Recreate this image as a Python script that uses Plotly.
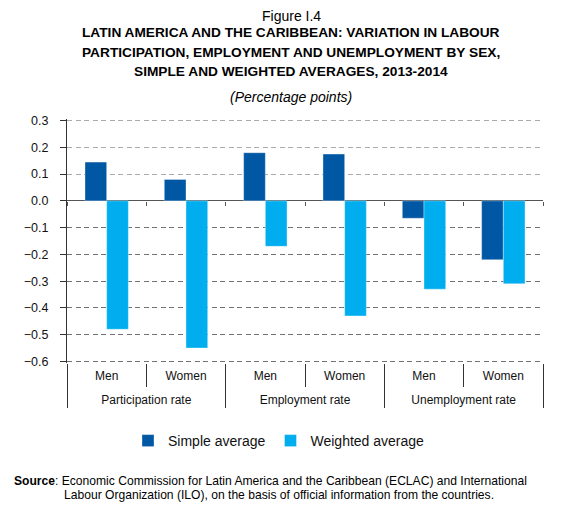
import plotly.graph_objects as go

# ---- data ----
groups = ["Participation rate", "Participation rate",
          "Employment rate", "Employment rate",
          "Unemployment rate", "Unemployment rate"]
sexes = ["Men", "Women", "Men", "Women", "Men", "Women"]
simple_avg = [0.145, 0.08, 0.18, 0.175, -0.065, -0.22]
weighted_avg = [-0.48, -0.55, -0.17, -0.43, -0.33, -0.31]
series_names = ["Simple average", "Weighted average"]
y_ticks = [0.3, 0.2, 0.1, 0.0, -0.1, -0.2, -0.3, -0.4, -0.5, -0.6]

# derived category positions (index based)
idx = list(range(len(sexes)))
inner_bounds = [i - 0.5 for i in range(len(sexes) + 1)]
group_names = []
for g in groups:
    if g not in group_names:
        group_names.append(g)
group_centers = [sum(i for i in idx if groups[i] == g) / groups.count(g) for g in group_names]
group_bounds = [-0.5] + [max(i for i in idx if groups[i] == g) + 0.5 for g in group_names]
upper_ticks = [v for v in y_ticks if v >= 0]
lower_ticks = [v for v in y_ticks if v < 0]

# ---- geometry (page offset of 8px from the body margin) ----
OFF = 8
W, H = 574, 515
L, R, T, B = 59, 39, 111, 160
PH = H - T - B
PW = W - L - R

def py(p):
    return (H - B - (p - OFF)) / PH

def px(p):
    return (p - OFF - L) / PW

FONT = "Liberation Sans, Arial, Helvetica, sans-serif"
C_SIMPLE = "#0057A4"
C_WEIGHT = "#00AEEF"
XR = [-0.5, len(sexes) - 0.5]
# small padding so the edge gridlines (0.3 and -0.6) are kept
YR = [min(y_ticks) - 0.006, max(y_ticks) + 0.006]

fig = go.Figure()
fig.add_trace(go.Bar(
    x=[groups, sexes], y=simple_avg, name=series_names[0],
    marker=dict(color=C_SIMPLE, line=dict(color="rgba(255,255,255,0.45)", width=0.8)),
))
fig.add_trace(go.Bar(
    x=[groups, sexes], y=weighted_avg, name=series_names[1],
    marker=dict(color=C_WEIGHT, line=dict(color="rgba(255,255,255,0.45)", width=0.8)),
))
# empty helper traces so that the overlay axes (labels, ticks, grids) get drawn
for xa, ya in [("x2", "y"), ("x3", "y"), ("x4", "y"), ("x", "y3")]:
    fig.add_trace(go.Scatter(x=[], y=[], xaxis=xa, yaxis=ya, mode="markers",
                             showlegend=False, hoverinfo="skip"))

title_lines = [
    ("Figure I.4", 16, 14),
    ("<b>LATIN AMERICA AND THE CARIBBEAN: VARIATION IN LABOUR</b>", 32.5, 13.7),
    ("<b>PARTICIPATION, EMPLOYMENT AND UNEMPLOYMENT BY SEX,</b>", 52, 13.7),
    ("<b>SIMPLE AND WEIGHTED AVERAGES, 2013-2014</b>", 71.5, 13.7),
    ("<i>(Percentage points)</i>", 97, 14),
]
annotations = []
for txt, ypix, fs in title_lines:
    annotations.append(dict(
        text=txt, xref="paper", yref="paper", x=px(291), y=py(ypix),
        xanchor="center", yanchor="middle", showarrow=False,
        font=dict(family=FONT, size=fs, color="#000000"),
    ))
annotations.append(dict(
    text="<b>Source</b>: Economic Commission for Latin America and the Caribbean (ECLAC) and International",
    xref="paper", yref="paper", x=px(12), y=py(481), xanchor="left", yanchor="middle",
    showarrow=False, font=dict(family=FONT, size=12.1, color="#000000"),
))
annotations.append(dict(
    text="Labour Organization (ILO), on the basis of official information from the countries.",
    xref="paper", yref="paper", x=px(62), y=py(495), xanchor="left", yanchor="middle",
    showarrow=False, font=dict(family=FONT, size=12.1, color="#000000"),
))

ytick_style = dict(
    ticks="outside", ticklen=6, tickcolor="#333333",
    ticklabelstandoff=9, automargin=False,
    tickfont=dict(family=FONT, size=12.5, color="#111111"),
    tickformat=".1f",
)

fig.update_layout(
    width=W, height=H,
    margin=dict(l=L, r=R, t=T, b=B, pad=0),
    paper_bgcolor="white", plot_bgcolor="white",
    barmode="group", bargap=0.453, bargroupgap=0,
    font=dict(family=FONT, size=12, color="#111111"),
    showlegend=True,
    legend=dict(orientation="h", x=px(279), xanchor="center", y=py(441), yanchor="middle",
                font=dict(family=FONT, size=14, color="#111111"),
                bgcolor="rgba(0,0,0,0)"),
    annotations=annotations,
    # bars (multicategory, labels drawn by the overlay axes below)
    xaxis=dict(
        type="multicategory", range=XR,
        showline=False, showgrid=False, zeroline=False,
        ticks="", showticklabels=False, showdividers=False, automargin=False,
    ),
    # inner labels: Men / Women
    xaxis2=dict(
        type="linear", overlaying="x", anchor="y", side="bottom", range=XR,
        tickmode="array", tickvals=idx, ticktext=sexes, ticks="",
        ticklabelstandoff=4, automargin=False,
        tickfont=dict(family=FONT, size=12, color="#111111"),
        minor=dict(tickmode="array", tickvals=inner_bounds, ticks="outside",
                   ticklen=23, tickcolor="#333333", tickwidth=1, showgrid=False),
        showgrid=False, zeroline=False, showline=False,
    ),
    # outer labels: indicator groups
    xaxis3=dict(
        type="linear", overlaying="x", anchor="y", side="bottom", range=XR,
        tickmode="array", tickvals=group_centers, ticktext=group_names, ticks="",
        ticklabelstandoff=28, automargin=False,
        tickfont=dict(family=FONT, size=12, color="#111111"),
        minor=dict(tickmode="array", tickvals=group_bounds, ticks="outside",
                   ticklen=44, tickcolor="#333333", tickwidth=1, showgrid=False),
        showgrid=False, zeroline=False, showline=False,
    ),
    # small ticks on the zero line
    xaxis4=dict(
        type="linear", overlaying="x", anchor="free", position=(0 - YR[0]) / (YR[1] - YR[0]),
        side="bottom", range=XR, tickmode="array", tickvals=inner_bounds,
        ticks="outside", ticklen=4, tickcolor="#555555", tickwidth=1,
        showticklabels=False, showgrid=False, zeroline=False, showline=False,
        automargin=False,
    ),
    # upper ticks (light dashed grid) + zero line + axis line
    yaxis=dict(
        range=YR, tickmode="array", tickvals=upper_ticks,
        showgrid=True, gridcolor="#ababab", griddash="5px,3.5px", gridwidth=1,
        zeroline=True, zerolinecolor="#555555", zerolinewidth=1,
        showline=True, linecolor="#333333", linewidth=1,
        fixedrange=True, **ytick_style,
    ),
    # lower ticks (darker dashed grid)
    yaxis3=dict(
        type="linear", overlaying="y", side="left", range=YR,
        tickmode="array", tickvals=lower_ticks,
        showline=False, zeroline=False,
        showgrid=True, gridcolor="#727272", griddash="5px,3.5px", gridwidth=1,
        **ytick_style,
    ),
)

fig.write_html("out.html")
